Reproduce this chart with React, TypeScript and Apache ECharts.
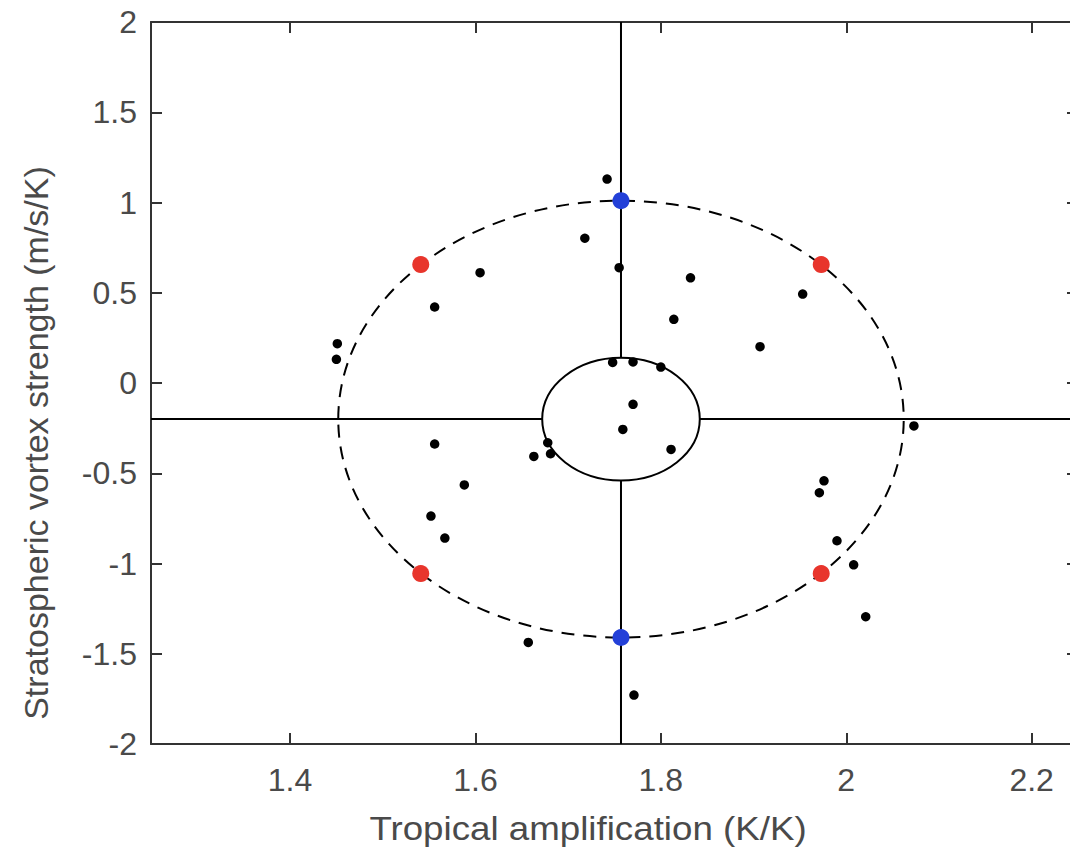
import React, { useEffect, useRef } from "react";
import * as echarts from "echarts";

// Model points (black dots)
const modelX = [
  1.742, 1.718, 1.755, 1.832, 1.605, 1.556, 1.451, 1.450, 1.814, 1.907, 1.953,
  1.748, 1.770, 1.800, 1.770, 1.759, 1.811, 1.678, 1.681, 1.663, 1.556, 1.588,
  1.552, 1.567, 1.976, 1.971, 1.990, 2.008, 2.021, 1.657, 1.771, 2.073,
];
const modelY = [
  1.130, 0.802, 0.639, 0.583, 0.611, 0.421, 0.218, 0.131, 0.353, 0.201, 0.493,
  0.114, 0.117, 0.088, -0.118, -0.257, -0.368, -0.331, -0.392, -0.407, -0.338, -0.565,
  -0.737, -0.859, -0.542, -0.608, -0.874, -1.007, -1.295, -1.437, -1.729, -0.238,
];

// Storyline points
const blueX = [1.757, 1.757];
const blueY = [1.01, -1.41];
const redX = [1.541, 1.973, 1.541, 1.973];
const redY = [0.656, 0.656, -1.056, -1.056];

// Ellipses: [centerX, centerY, radiusX, radiusY]
const outerEllipse = [1.757, -0.2, 0.305, 1.21];
const innerEllipse = [1.757, -0.2, 0.085, 0.34];

// Axes
const xMin = 1.25;
const xMax = 2.25;
const xTicks = [1.4, 1.6, 1.8, 2, 2.2];
const yMin = -2;
const yMax = 2;
const yInterval = 0.5;

const xTitle = "Tropical amplification (K/K)";
const yTitle = "Stratospheric vortex strength (m/s/K)";

const FONT = "'Liberation Sans', Arial, Helvetica, sans-serif";
const LABEL_COLOR = "#4a4a4a";

export default function App() {
  const ref = useRef<HTMLDivElement>(null);

  useEffect(() => {
    if (!ref.current) return;
    const chart = echarts.init(ref.current, undefined, { renderer: "svg" });

    const [cx, cy, irx, iry] = innerEllipse;

    const seg = (data: number[][]) => ({
      type: "line",
      data,
      symbol: "none",
      lineStyle: { color: "#000", width: 2 },
      z: 1,
      silent: true,
    });

    const ellipseSeries = (e: number[], dashed: boolean) => ({
      type: "custom",
      data: [e],
      encode: { x: 0, y: 1 },
      z: 2,
      silent: true,
      renderItem: (params: any, api: any) => {
        const c = api.coord([api.value(0), api.value(1)]);
        const s = api.size([api.value(2), api.value(3)]);
        return {
          type: "ellipse",
          shape: { cx: c[0], cy: c[1], rx: s[0], ry: s[1] },
          style: {
            fill: "none",
            stroke: "#000",
            lineWidth: 2,
            lineDash: dashed ? [13, 9] : null,
          },
        };
      },
    });

    const axisLine = { show: true, onZero: false, lineStyle: { color: "#333", width: 2 } };
    const axisTick = { show: true, inside: true, length: 11, lineStyle: { color: "#333", width: 2 } };

    chart.setOption({
      animation: false,
      backgroundColor: "#fff",
      grid: { left: 151, right: 2, top: 22, bottom: 105, containLabel: false },
      xAxis: [
        {
          type: "value",
          min: xMin,
          max: xMax,
          position: "bottom",
          axisLine,
          splitLine: { show: false },
          axisTick: { ...axisTick, customValues: xTicks },
          axisLabel: {
            customValues: xTicks,
            margin: 20,
            fontSize: 32,
            color: LABEL_COLOR,
            fontFamily: FONT,
          },
        },
        {
          type: "value",
          min: xMin,
          max: xMax,
          position: "top",
          axisLine,
          splitLine: { show: false },
          axisTick: { ...axisTick, customValues: xTicks },
          axisLabel: { show: false, customValues: xTicks },
        },
      ],
      yAxis: [
        {
          type: "value",
          min: yMin,
          max: yMax,
          interval: yInterval,
          position: "left",
          axisLine,
          axisTick,
          splitLine: { show: false },
          axisLabel: {
            margin: 14,
            fontSize: 32,
            color: LABEL_COLOR,
            fontFamily: FONT,
          },
        },
        {
          type: "value",
          min: yMin,
          max: yMax,
          interval: yInterval,
          position: "right",
          axisLine,
          axisTick,
          splitLine: { show: false },
          axisLabel: { show: false },
        },
      ],
      graphic: [
        {
          type: "text",
          x: 588,
          y: 828,
          scaleX: 1.08,
          style: {
            text: xTitle,
            fontSize: 34,
            fontFamily: FONT,
            fill: LABEL_COLOR,
            textAlign: "center",
            textVerticalAlign: "middle",
          },
        },
        {
          type: "text",
          x: 36,
          y: 443,
          rotation: Math.PI / 2,
          style: {
            text: yTitle,
            fontSize: 34,
            fontFamily: FONT,
            fill: LABEL_COLOR,
            textAlign: "center",
            textVerticalAlign: "middle",
          },
        },
      ],
      series: [
        seg([[cx, yMax], [cx, cy + iry]]),
        seg([[cx, cy - iry], [cx, yMin]]),
        seg([[xMin, cy], [cx - irx, cy]]),
        seg([[cx + irx, cy], [xMax, cy]]),
        ellipseSeries(outerEllipse, true),
        ellipseSeries(innerEllipse, false),
        {
          type: "scatter",
          data: modelX.map((x, i) => [x, modelY[i]]),
          symbolSize: 9.5,
          itemStyle: { color: "#000", opacity: 1 },
          z: 3,
        },
        {
          type: "scatter",
          data: redX.map((x, i) => [x, redY[i]]),
          symbolSize: 17,
          itemStyle: { color: "#e8352c", opacity: 1 },
          z: 4,
        },
        {
          type: "scatter",
          data: blueX.map((x, i) => [x, blueY[i]]),
          symbolSize: 17,
          itemStyle: { color: "#2340d8", opacity: 1 },
          z: 4,
        },
      ],
    });

    return () => chart.dispose();
  }, []);

  return (
    <div style={{ position: "absolute", left: 0, top: 0, width: 1070, height: 849, overflow: "hidden", background: "#fff" }}>
      <div ref={ref} style={{ width: 1080, height: 849 }} />
    </div>
  );
}
